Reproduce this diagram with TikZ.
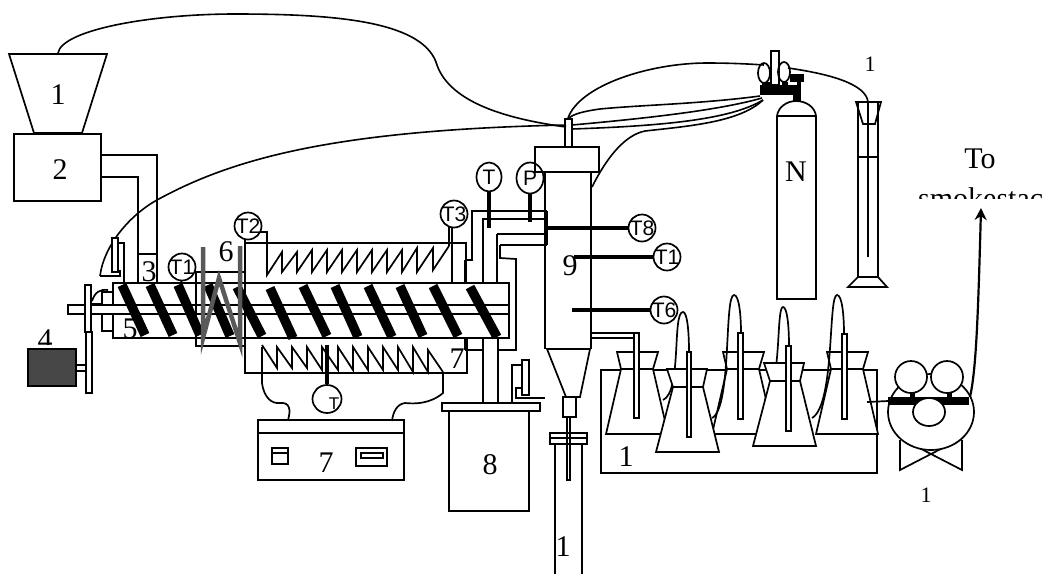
\documentclass[tikz,border=0pt]{standalone}
\usepackage{fontspec}
\setmainfont{Liberation Serif}
\setsansfont{Liberation Sans}
\usetikzlibrary{shapes.geometric,arrows.meta}
\newcommand{\gt}[1]{\makebox[0pt]{#1}}
\tikzset{
  ln/.style={line width=1.7pt,line join=miter},
  wire/.style={line width=1.6pt},
  thick bar/.style={line width=4.5pt},
  flight/.style={line width=9.5pt},
  band/.style={line width=4.5pt,draw=black!65},
  lab/.style={font=\fontsize{30}{30}\selectfont,inner sep=0pt},
  labs/.style={font=\fontsize{22}{22}\selectfont,inner sep=0pt},
  gauge/.style={draw,ellipse,line width=1.7pt,fill=white,inner sep=0pt,minimum width=27pt,minimum height=27pt,font=\sffamily\fontsize{21}{21}\selectfont},
  wf/.style={ln,fill=white},
}
\begin{document}
\begin{tikzpicture}[x=1pt,y=-1pt]
\useasboundingbox (0,0) rectangle (1043,574);
% hopper and feeder
\draw[ln] (9,54) -- (107,54) -- (82,133) -- (34,133) -- cycle;
\draw[ln] (14,134) rectangle (101,201);
\node[lab] (l1) at (58,95) {1};
\node[lab] (l2) at (60,170) {2};
\draw[ln] (101,155) -- (157,155) -- (157,283);
\draw[ln] (101,177) -- (138,177) -- (138,283);
\draw[ln] (138,254) -- (157,254);
\node[lab] (l3) at (149,272) {3};
% long wires
\draw[wire] (58,53) .. controls (62,30) and (150,14) .. (235,14) .. controls (330,14) and (420,20) .. (436,62) .. controls (447,100) and (500,118) .. (566,127);
\draw[wire] (100,276) .. controls (104,245) and (130,215) .. (157,200) .. controls (230,160) and (330,130) .. (566,125);
% left feeder device
\draw[ln] (100,276) -- (120,276) -- (120,270);
\draw[wf] (112,238) rectangle (118,272);
\draw[ln] (118,243) -- (124,243) -- (124,283);
% barrel
\draw[ln] (113,283) rectangle (509,338);
\draw[ln,fill=white] (102,292) rectangle (113,331);
\draw[ln,fill=white] (68,305) rectangle (509,314);
\draw[ln] (92,301) .. controls (95,292) and (100,289) .. (108,290);
\draw[ln] (92,304) -- (102,304);
\draw[ln,fill=white] (85,285) rectangle (91,332);
\draw[ln,fill=white] (86,332) rectangle (92,393);
\draw[ln,fill=black!72] (28,349) rectangle (76,386);
\draw[ln,fill=white] (76,365) rectangle (86,371);
\begin{scope}
\clip (0,320) rectangle (100,344);
\node[lab] (l4) at (45,340) {4};
\end{scope}
\node[lab] (l5) at (130,329) {5};
% flights
\foreach \a/\b/\c/\d in {122/285/145/335,150/285/173/335,178/285/200/335,208/285/230/336,237/287/262/336,270/288/293/338,303/286/327/336,335/286/358/337,368/286/392/337,400/286/423/336,433/286/458/336,470/287/497/337}
  \draw[flight] (\a,\b) -- (\c,\d);
% cooling band
\draw[ln] (244,272) -- (196,272) -- (196,346) -- (245,346);
\draw[band] (203,247) -- (203,338) -- (219,278) -- (240,343) -- (240,246);
\node[lab] (l6) at (226,252) {6};
% heating zones
\draw[ln] (245,232) -- (245,373) -- (467,373) -- (467,338);
\draw[ln] (245,243) -- (466,243) -- (466,283);
\draw[ln] (258,232) -- (267,232) -- (267,275)
 -- (282,252) -- (282,272) -- (297,252) -- (297,272) -- (312,250) -- (312,272) -- (327,250) -- (327,272) -- (342,250) -- (342,272)
 -- (357,250) -- (357,272) -- (372,250) -- (372,272) -- (387,250) -- (387,272) -- (402,250) -- (402,272) -- (417,248) -- (417,272) -- (433,248) -- (433,270) -- (449,246);
\draw[ln] (262,345) -- (277,368) -- (277,347) -- (292,368) -- (292,347) -- (307,368) -- (307,347) -- (322,370) -- (322,347) -- (338,370) -- (338,347)
 -- (353,370) -- (353,347) -- (368,370) -- (368,347) -- (383,370) -- (383,347) -- (398,370) -- (398,347) -- (413,372) -- (413,347) -- (428,372) -- (428,350) -- (443,372);
\node[lab] (l7b) at (457,359) {7};
% gauges on extruder
\node[gauge] (g1) at (182,267) {\gt{T1}};
\node[gauge] (g2) at (248,226) {\gt{T2}};
\node[gauge] (g3) at (454,214) {\gt{T3}};
\node[gauge,minimum width=25pt,minimum height=29pt] (gt) at (489,177) {\gt{T}};
\node[gauge,minimum height=31pt] (gp) at (530,178) {\gt{P}};
\node[gauge,minimum width=29pt,minimum height=28pt] (gb) at (327,399) {};
\node[font=\sffamily\fontsize{17}{17}\selectfont,inner sep=0pt] (gbt) at (334,404) {T};
\draw[ln] (g1.south) -- (180,283);
\draw[ln] (449,226) -- (449,246);
\draw[ln] (452,227) -- (452,284);
\draw[thick bar] (327,345) -- (gb.north);
\draw[thick bar] (gt.south) -- (489,228);
\draw[thick bar] (gp.south) -- (530,222);
% controller
\draw[ln] (258,420) rectangle (404,480);
\draw[ln] (258,433) -- (404,433);
\draw[ln] (272,448) rectangle (288,464);
\draw[ln] (272,453) -- (288,453);
\draw[ln] (356,448) rectangle (387,466);
\draw[ln] (361,453) rectangle (383,458);
\node[lab] (l7a) at (326,463) {7};
\draw[ln] (262,347) -- (262,383) .. controls (264,398) and (272,404) .. (280,403) .. controls (290,402) and (291,410) .. (288,420);
\draw[ln] (443,372) -- (443,393) .. controls (430,404) and (415,404) .. (405,403) .. controls (397,404) and (393,412) .. (392,421);
% connecting pipes
\draw[ln] (483,233) -- (483,283);
\draw[ln] (497,234) -- (497,283);
\draw[line width=3pt] (465,260) -- (465,283);
\draw[ln] (465,260) -- (472,260) -- (472,211) -- (547,211);
\draw[line width=2.4pt] (483,233) -- (483,219) -- (547,219);
\draw[ln] (497,234) -- (547,234);
\draw[ln] (500,245) -- (547,245);
\draw[ln] (500,245) -- (500,258) -- (516,259) -- (516,350) -- (498,350);
\draw[line width=3pt] (465,338) -- (465,350);
\draw[ln] (465,350) -- (483,350);
\draw[ln] (483,338) -- (483,403);
\draw[ln] (498,338) -- (498,403);
% vessel 8
\draw[ln] (442,403) rectangle (540,411);
\draw[ln] (449,411) rectangle (529,511);
\node[lab] (l8) at (490,465) {8};
\draw[ln] (522,360) rectangle (529,395);
\draw[ln] (522,365) -- (512,365) -- (512,403);
\draw[ln] (522,388) -- (516,388) -- (516,398) -- (545,398);
% reactor
\draw[ln] (565,147) -- (565,119) -- (572,119) -- (572,147);
\draw[ln] (535,147) rectangle (599,172);
\draw[ln] (545,172) -- (545,349);
\draw[ln] (591,172) -- (591,349);
\draw[ln] (547,349) -- (590,349) -- (580,397) -- (566,397) -- cycle;
\draw[ln] (563,397) rectangle (576,417);
\draw[ln] (567,417) rectangle (570,480);
\draw[ln] (555,444) -- (555,574);
\draw[ln] (582,444) -- (582,574);
\draw[ln] (550,433) rectangle (587,444);
\draw[ln] (550,438) -- (587,438);
\node[lab] (l1t) at (563,547) {1};
\draw[line width=2.4pt] (547,211) -- (547,245);
% probes
\node[gauge] (g8) at (642,228) {\gt{T8}};
\node[gauge] (g7) at (667,257) {\gt{T1}};
\node[gauge] (g6) at (664,310) {\gt{T6}};
\draw[thick bar] (547,228) -- (g8.west);
\draw[thick bar] (574,257) -- (g7.west);
\draw[thick bar] (572,310) -- (g6.west);
\node[lab] (l9) at (570,266) {9};
% outlet tube
\draw[ln] (591,333) -- (634,333);
\draw[ln] (591,338) -- (634,338);
% water bath
\draw[ln] (601,370) rectangle (877,473);
\node[lab] (l1b) at (626,457) {1};
% back flasks
\foreach \x in {0,106,210}{
\begin{scope}[xshift=\x pt]
\draw[wf] (606,434) -- (621,369) -- (653,369) -- (668,434) -- cycle;
\draw[wf] (617,352) -- (658,352) -- (653,369) -- (621,369) -- cycle;
\end{scope}}
\draw[wf] (634,333) rectangle (639,418);
\draw[wf] (738,333) rectangle (743,419);
\draw[wf] (842,334) rectangle (847,419);
% loops
\draw[ln] (663,400) .. controls (682,392) and (672,312) .. (683,312) .. controls (687,312) and (689,330) .. (689,352);
\draw[ln] (712,418) .. controls (732,408) and (724,295) .. (734,295) .. controls (739,295) and (741,315) .. (741,333);
\draw[ln] (765,400) .. controls (782,385) and (776,307) .. (783,307) .. controls (787,307) and (789,325) .. (789,346);
\draw[ln] (812,418) .. controls (835,405) and (828,295) .. (837,295) .. controls (842,295) and (844,315) .. (844,334);
% front flasks
\foreach \x/\y in {0/0,97/-6}{
\begin{scope}[xshift=\x pt,yshift=-\y pt]
\draw[wf] (656,452) -- (673,387) -- (703,387) -- (719,452) -- cycle;
\draw[wf] (667,369) -- (707,369) -- (703,387) -- (673,387) -- cycle;
\end{scope}}
\draw[wf] (687,352) rectangle (691,437);
\draw[wf] (786,346) rectangle (791,431);
% pump
\draw[ln] (867,402) -- (888,401);
\draw[ln] (900,440) -- (900,470) -- (962,438);
\draw[ln] (962,440) -- (962,470) -- (900,438);
\draw[wf] (931,412) ellipse [x radius=43,y radius=38];
\node[draw,circle,ln,fill=white,minimum size=32pt,inner sep=0pt] (pa) at (911,377) {};
\node[draw,circle,ln,fill=white,minimum size=32pt,inner sep=0pt] (pb) at (947,377) {};
\draw[line width=5pt] (912,392) -- (912,400);
\draw[line width=5pt] (949,392) -- (949,400);
\draw[line width=8pt] (888,401) -- (969,401);
\node[draw,ellipse,ln,fill=white,minimum width=32pt,minimum height=28pt,inner sep=0pt] (pc) at (929,412) {};
\node[labs] (l1p) at (926,495) {1};
\coordinate (pout) at (970,397);
\coordinate (stack) at (981,208);
\draw[line width=2.2pt,-{Stealth[length=12pt,width=12pt]}] (pout) .. controls (976,370) and (978,320) .. (stack);
\node[lab] (lto) at (980,159) {To};
\begin{scope}
\clip (900,180) rectangle (1043,198);
\node[lab,anchor=base west] (lsm) at (918,208) {smokestac};
\end{scope}
% nitrogen cylinder
\draw[ln] (777,299) -- (777,116) .. controls (778,107) and (787,101) .. (796,101) .. controls (806,101) and (815,107) .. (816,116) -- (816,299) -- cycle;
\draw[ln] (777,116) -- (816,116);
\node[lab] (ln) at (796,172) {N};
\fill (793,93) rectangle (801,101);
\fill (760,85) rectangle (801,95);
\fill (790,74) rectangle (804,82);
\fill (797,82) rectangle (801,93);
\fill (762,82) rectangle (770,85);
\fill (782,82) rectangle (788,85);
\draw[ln] (771,51) rectangle (779,85);
\draw[ln] (764,73) ellipse [x radius=6,y radius=10];
\draw[ln] (784,72) ellipse [x radius=6,y radius=10];
% flow meter
\draw[ln] (858,102) -- (858,277) -- (878,277) -- (878,102);
\draw[ln] (858,277) -- (848,287) -- (887,287) -- (878,277);
\draw[ln] (856,102) -- (881,102) -- (875,124) -- (863,124) -- cycle;
\draw[ln] (858,157) -- (878,157);
\draw[ln] (868,102) -- (868,257);
\node[labs] (l1f) at (870,64) {1};
% gas wires
\draw[wire] (568,118) .. controls (580,85) and (650,63) .. (707,63) .. controls (730,63) and (750,64) .. (764,65);
\draw[wire] (788,68) .. controls (830,74) and (866,84) .. (868,102);
\draw[wire] (760,96) .. controls (700,104) and (640,105) .. (600,109) .. controls (585,111) and (572,114) .. (568,119);
\draw[wire] (762,98) .. controls (720,110) and (650,118) .. (572,125);
\draw[wire] (763,100) .. controls (730,120) and (660,126) .. (572,129);
\draw[wire] (592,187) .. controls (607,157) and (625,135) .. (645,131) .. controls (690,126) and (740,122) .. (763,100);
\end{tikzpicture}
\end{document}
